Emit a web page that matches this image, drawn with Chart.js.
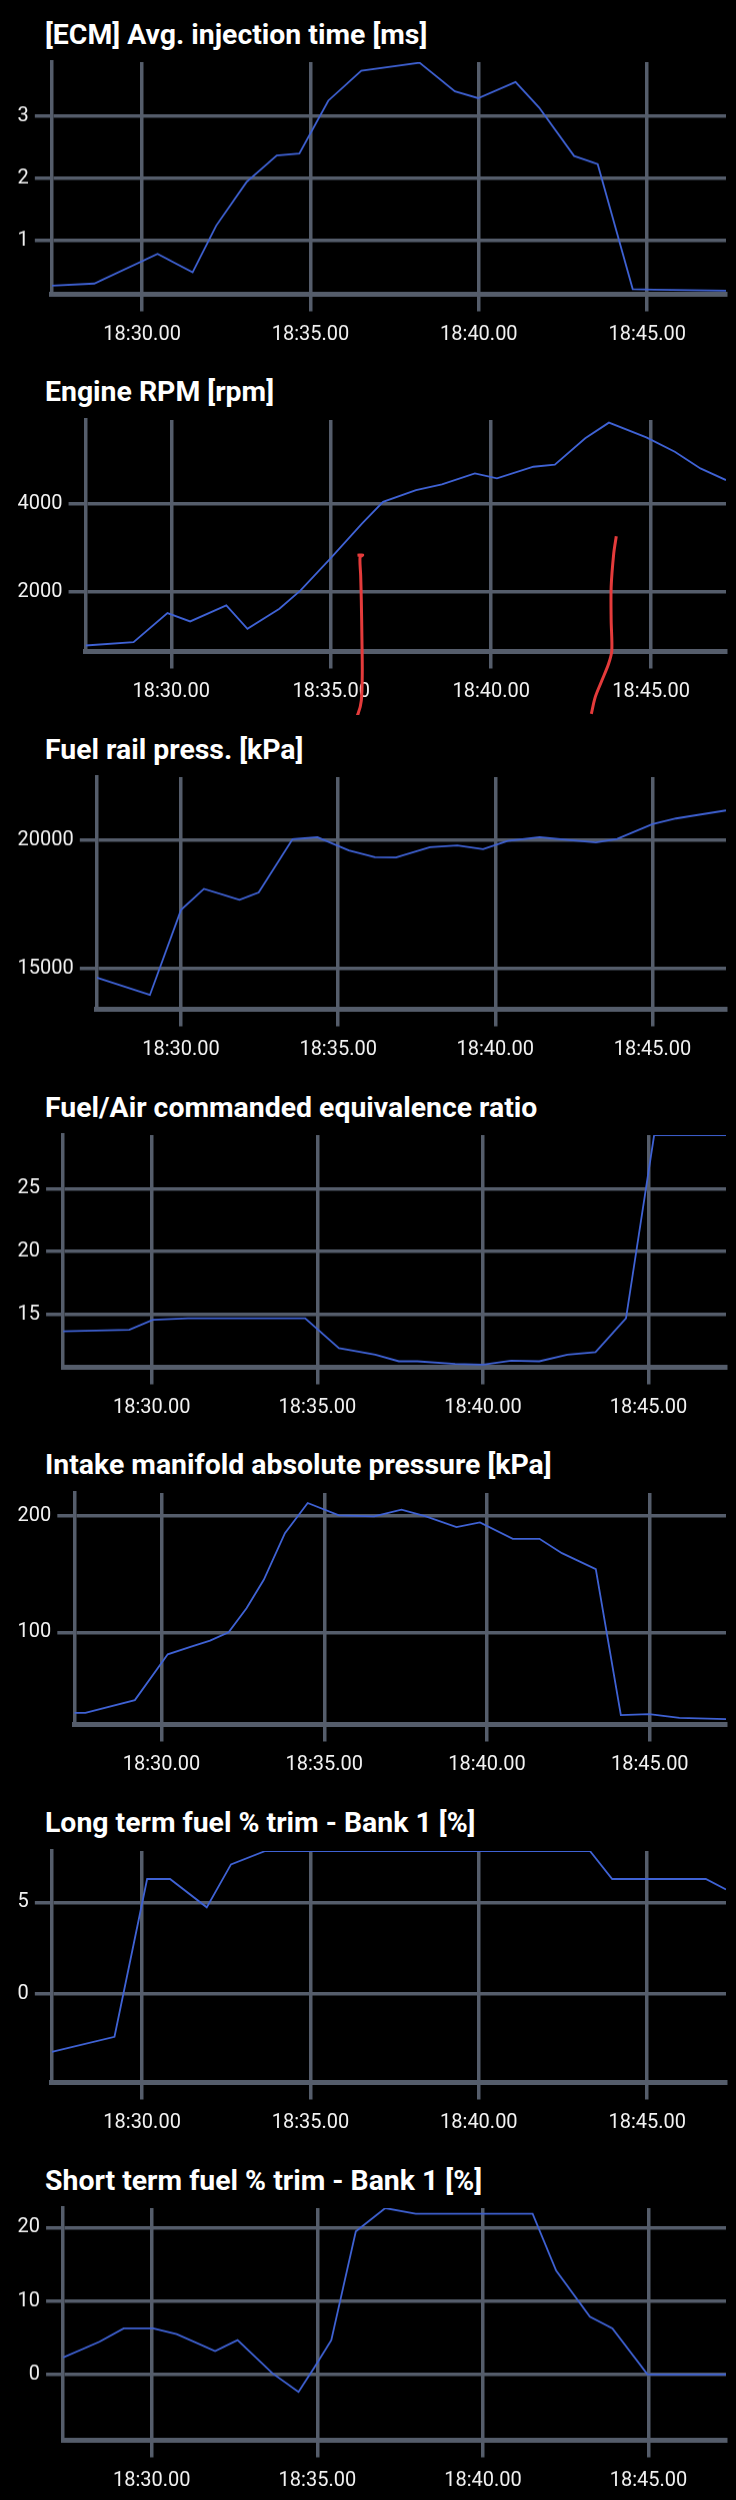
<!DOCTYPE html>
<html>
<head>
<meta charset="utf-8">
<script src="https://cdn.jsdelivr.net/npm/chart.js@4.4.0/dist/chart.umd.min.js"></script>
<style>
    html, body { margin: 0; padding: 0; background: #000; overflow: hidden; }
    body { width: 736px; height: 2500px; position: relative; }
    .panel { position: absolute; left: 0; width: 736px; height: 357.7px; }
    .title {
        position: absolute; left: 45px; top: 20.6px;
        font: bold 28.4px Roboto, sans-serif; line-height: 28.4px;
        color: #fff; white-space: nowrap;
    }
    .plot { position: absolute; left: 0; top: 44px; width: 736px; height: 313.7px; }
</style>
</head>
<body>
<div class="panel" style="top:0px"><div class="title">[ECM] Avg. injection time [ms]</div><div class="plot"><canvas id="chart-inj"></canvas></div></div>
<div class="panel" style="top:357.7px"><div class="title">Engine RPM [rpm]</div><div class="plot"><canvas id="chart-rpm"></canvas></div></div>
<div class="panel" style="top:715.4px"><div class="title">Fuel rail press. [kPa]</div><div class="plot"><canvas id="chart-rail"></canvas></div></div>
<div class="panel" style="top:1073.1px"><div class="title">Fuel/Air commanded equivalence ratio</div><div class="plot"><canvas id="chart-ratio"></canvas></div></div>
<div class="panel" style="top:1430.8px"><div class="title">Intake manifold absolute pressure [kPa]</div><div class="plot"><canvas id="chart-map"></canvas></div></div>
<div class="panel" style="top:1788.5px"><div class="title">Long term fuel % trim - Bank 1 [%]</div><div class="plot"><canvas id="chart-ltft"></canvas></div></div>
<div class="panel" style="top:2146.2px"><div class="title">Short term fuel % trim - Bank 1 [%]</div><div class="plot"><canvas id="chart-stft"></canvas></div></div>

<script>
// 時間軸 (18:00 からの分)
const xMin = 27.32;
const xMax = 47.34;
const xTickValues = [30, 35, 40, 45];
const xTickLabels = ['18:30.00', '18:35.00', '18:40.00', '18:45.00'];

// [ECM] Avg. injection time [ms]
const injTimes = [27.32, 28.58, 30.46, 31.50, 32.20, 33.10, 34.00, 34.67, 35.53, 36.51, 38.24, 39.29, 39.98, 41.09, 41.79, 42.83, 43.53, 44.57, 45.20, 47.34];
const injValues = [0.276, 0.31, 0.786, 0.49, 1.24, 1.94, 2.37, 2.40, 3.25, 3.73, 3.86, 3.40, 3.29, 3.55, 3.14, 2.36, 2.23, 0.22, 0.21, 0.195];
const injTicks = [1, 2, 3];
const injRange = [0.137, 3.87];

// Engine RPM [rpm]
const rpmTimes = [27.32, 28.82, 29.88, 30.59, 31.72, 32.38, 33.38, 34.04, 34.97, 35.96, 36.62, 37.65, 38.46, 39.49, 40.18, 41.32, 41.99, 42.94, 43.68, 44.85, 45.74, 46.54, 47.34];
const rpmValues = [771, 847, 1511, 1321, 1687, 1153, 1611, 2031, 2756, 3557, 4053, 4321, 4450, 4702, 4588, 4855, 4901, 5504, 5863, 5527, 5198, 4817, 4550];
const rpmTicks = [2000, 4000];
const rpmRange = [634, 5923];

// 手書きの赤いマーク (RPM グラフ上)
const markATimes = [35.82, 35.98, 35.90, 35.92, 35.94, 35.96, 35.97, 35.94, 35.84, 35.68, 35.52, 35.42];
const markAValues = [2832, 2839, 2786, 2374, 1802, 886, 130, -488, -786, -985, -1008, -930];
const markBTimes = [43.91, 43.83, 43.75, 43.75, 43.77, 43.67, 43.46, 43.25, 43.13];
const markBValues = [3267, 2871, 2106, 1344, 657, 352, -30, -413, -793];

// Fuel rail press. [kPa]
const railTimes = [27.32, 29.01, 30.00, 30.73, 31.86, 32.47, 33.55, 34.34, 35.34, 36.17, 36.84, 37.92, 38.79, 39.61, 40.39, 41.41, 42.31, 43.20, 43.88, 45.00, 45.75, 47.34];
const railValues = [14650, 13977, 17280, 18096, 17668, 17953, 20026, 20104, 19585, 19326, 19313, 19715, 19780, 19637, 19961, 20104, 20000, 19896, 20039, 20609, 20829, 21140];
const railTicks = [15000, 20000];
const railRange = [13420, 22435];

// Fuel/Air commanded equivalence ratio
const ratioTimes = [27.32, 29.32, 30.03, 31.09, 34.63, 35.65, 36.75, 37.46, 38.02, 39.16, 40.00, 40.85, 41.70, 42.55, 43.40, 44.32, 45.17, 47.34];
const ratioValues = [13.64, 13.75, 14.55, 14.68, 14.68, 12.29, 11.78, 11.25, 11.25, 11.04, 10.98, 11.30, 11.25, 11.78, 11.97, 14.68, 29.26, 29.26];
const ratioTicks = [15, 20, 25];
const ratioRange = [10.77, 29.26];

// Intake manifold absolute pressure [kPa]
const mapTimes = [27.32, 27.66, 29.18, 30.19, 30.91, 31.49, 32.06, 32.61, 33.14, 33.79, 34.49, 35.45, 36.53, 37.37, 38.12, 39.06, 39.78, 40.79, 41.61, 42.30, 43.34, 44.11, 44.98, 45.91, 47.34];
const mapValues = [30.9, 30.9, 41.8, 81.1, 87.7, 92.8, 100.0, 120.6, 145, 185.1, 210.9, 200.3, 199.4, 205.2, 199.4, 190.3, 194.3, 180.2, 180.2, 167.9, 154.2, 28.9, 29.8, 26.6, 25.5];
const mapTicks = [100, 200];
const mapRange = [20.9, 219.5];

// Long term fuel % trim - Bank 1 [%]
const ltftTimes = [27.32, 29.18, 30.15, 30.83, 31.92, 32.64, 33.66, 43.30, 43.96, 46.74, 47.34];
const ltftValues = [-3.18, -2.35, 6.28, 6.28, 4.73, 7.08, 7.81, 7.81, 6.28, 6.28, 5.71];
const ltftTicks = [0, 5];
const ltftRange = [-4.85, 7.81];

// Short term fuel % trim - Bank 1 [%]
const stftTimes = [27.32, 28.42, 29.15, 30.04, 30.75, 31.91, 32.59, 33.65, 34.43, 34.92, 35.42, 36.16, 37.05, 37.97, 41.50, 42.21, 43.23, 43.91, 44.97, 47.34];
const stftValues = [2.32, 4.45, 6.27, 6.27, 5.5, 3.18, 4.68, 0.14, -2.36, 1.05, 4.68, 19.45, 22.64, 21.86, 21.86, 14.14, 7.86, 6.27, 0, 0];
const stftTicks = [0, 10, 20];
const stftRange = [-8.95, 22.64];

// 共通スタイル
const GRID_COLOR = '#555d6b';
const LINE_COLOR = '#3f62d4';
const MARK_COLOR = '#e43b3b';
const TICK_FONT = { family: 'Roboto', size: 20 };
const TICK_COLOR = '#f2f2f2';

function toPoints(times, values) {
    return times.map((t, i) => ({ x: t, y: values[i] }));
}

// グラフの作成
function createChart(id, times, values, range, yTicks, extraDatasets) {
    const datasets = [{
        data: toPoints(times, values),
        borderColor: LINE_COLOR,
        borderWidth: 1.8,
        pointRadius: 0,
        tension: 0
    }];
    (extraDatasets || []).forEach(d => datasets.push(d));

    return new Chart(document.getElementById(id), {
        type: 'line',
        data: { datasets: datasets },
        options: {
            responsive: true,
            maintainAspectRatio: false,
            animation: false,
            layout: { padding: { left: 11.6, right: 10, top: 0, bottom: 1.2 } },
            plugins: {
                legend: { display: false },
                tooltip: { enabled: false }
            },
            scales: {
                x: {
                    type: 'linear',
                    min: xMin,
                    max: xMax,
                    afterBuildTicks: function(scale) {
                        scale.ticks = xTickValues.map(v => ({ value: v }));
                    },
                    ticks: {
                        color: TICK_COLOR,
                        font: TICK_FONT,
                        padding: 11,
                        maxRotation: 0,
                        autoSkip: false,
                        callback: function(value) {
                            return xTickLabels[xTickValues.indexOf(value)];
                        }
                    },
                    grid: { color: GRID_COLOR, lineWidth: 3.5, tickLength: 17 },
                    border: { color: GRID_COLOR, width: 5 }
                },
                y: {
                    type: 'linear',
                    min: range[0],
                    max: range[1],
                    afterBuildTicks: function(scale) {
                        scale.ticks = yTicks.map(v => ({ value: v }));
                    },
                    ticks: {
                        color: TICK_COLOR,
                        font: TICK_FONT,
                        padding: 6,
                        callback: function(value) {
                            return String(value);
                        }
                    },
                    grid: { color: GRID_COLOR, lineWidth: 3.5, tickLength: 17 },
                    border: { color: GRID_COLOR, width: 3.5 }
                }
            }
        }
    });
}

// 手書きマーク用データセット
function markDataset(times, values) {
    return {
        data: toPoints(times, values),
        borderColor: MARK_COLOR,
        borderWidth: 3,
        pointRadius: 0,
        tension: 0.3,
        clip: false,
        order: -1
    };
}

createChart('chart-inj', injTimes, injValues, injRange, injTicks);
createChart('chart-rpm', rpmTimes, rpmValues, rpmRange, rpmTicks, [
    markDataset(markATimes, markAValues),
    markDataset(markBTimes, markBValues)
]);
createChart('chart-rail', railTimes, railValues, railRange, railTicks);
createChart('chart-ratio', ratioTimes, ratioValues, ratioRange, ratioTicks);
createChart('chart-map', mapTimes, mapValues, mapRange, mapTicks);
createChart('chart-ltft', ltftTimes, ltftValues, ltftRange, ltftTicks);
createChart('chart-stft', stftTimes, stftValues, stftRange, stftTicks);
</script>
</body>
</html>
